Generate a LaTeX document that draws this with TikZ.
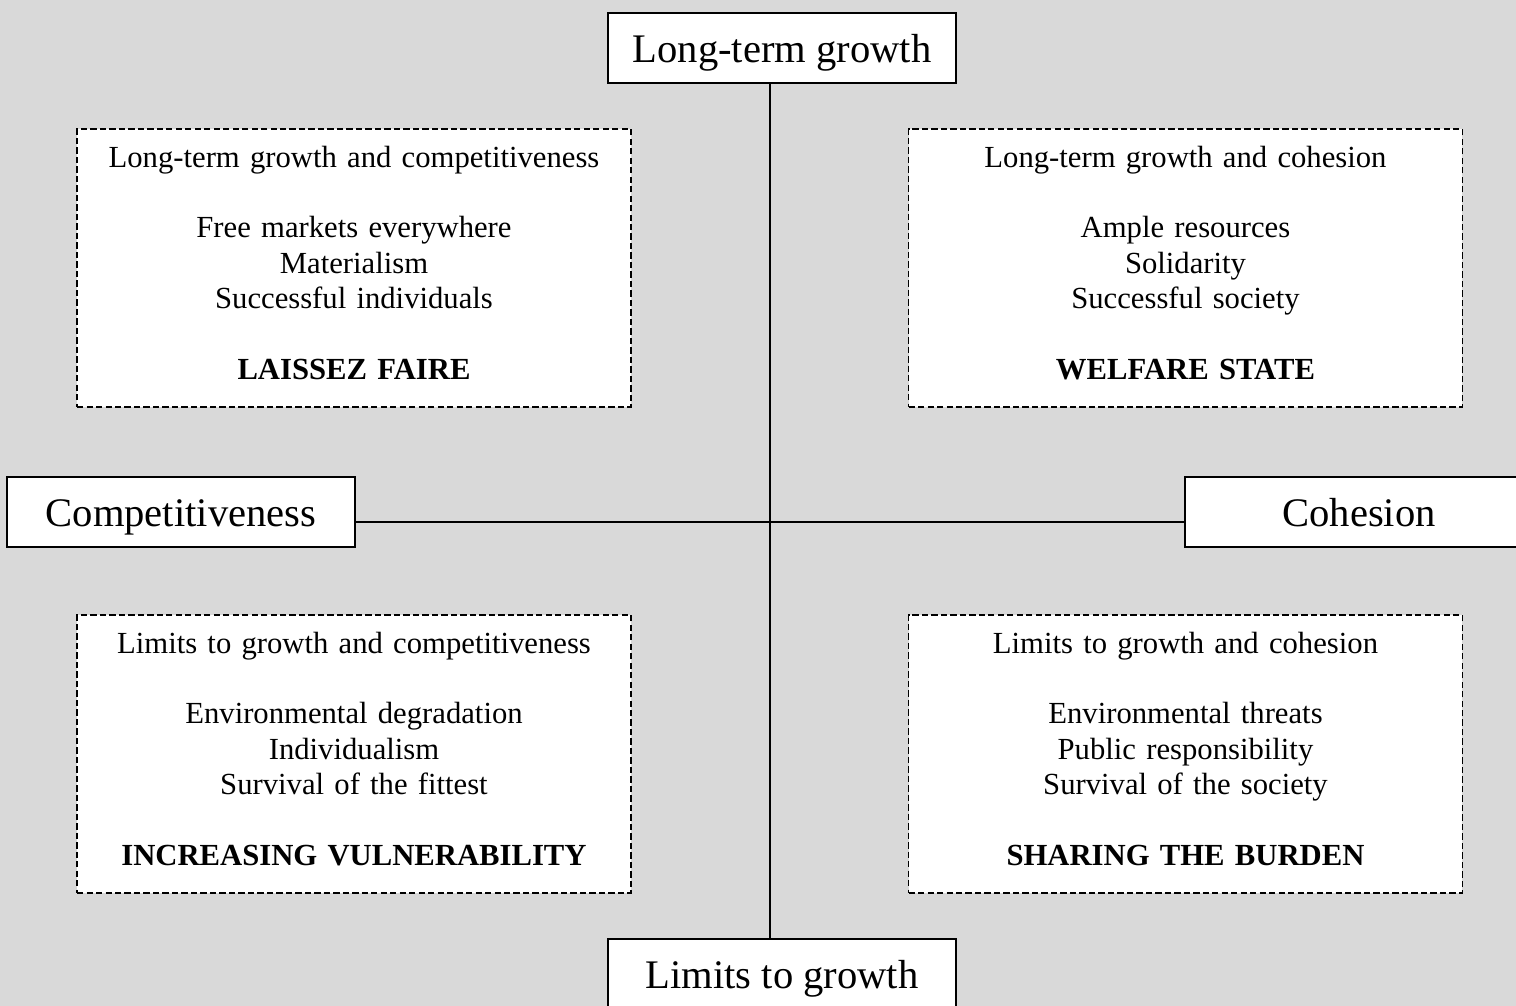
\documentclass[tikz,border=0pt]{standalone}
\usepackage{fontspec}
\setmainfont{Liberation Serif}
\definecolor{bggray}{RGB}{217,217,217}

\begin{document}
\begin{tikzpicture}[x=0.02cm,y=-0.02cm,
    axisbox/.style={draw,line width=1.1pt,fill=white,minimum width=6.96cm,
      inner xsep=0pt,inner ysep=0pt,text height=1cm,text depth=0.4cm,
      font=\fontsize{23.1}{27}\selectfont},
    scenario/.style={draw,dash pattern=on 3.6pt off 1.8pt,line width=0.85pt,
      fill=white,inner sep=0pt,text width=11.08cm,align=center,
      text height=0.76cm,text depth=4.8cm,
      font=\fontsize{17.46}{20.13}\selectfont},
    axisline/.style={line width=1.1pt}]
  \useasboundingbox[fill=bggray] (0,0) rectangle (1516,1006);
  \clip (0,0) rectangle (1516,1006);
  % Axes
  \coordinate (hub) at (770,522);
  \node[axisbox] (growth) at (782,48) {Long-term growth};
  \node[axisbox] (limits) at (782,974) {Limits to growth};
  \node[axisbox] (compet) at (181,512) {Competitiveness};
  \node[axisbox] (cohesion) at (1359,512) {Cohesion};
  \draw[axisline] (growth.south -| hub) -- (limits.north -| hub);
  \draw[axisline] (compet.east |- hub) -- (cohesion.west |- hub);
  % Scenarios
  \node[scenario] (faire) at (354,268) {Long-term growth and competitiveness\\[20.13pt]
    Free markets everywhere\\Materialism\\Successful individuals\\[20.13pt]
    \textbf{LAISSEZ FAIRE}};
  \node[scenario] (welfare) at (1185.5,268) {Long-term growth and cohesion\\[20.13pt]
    Ample resources\\Solidarity\\Successful society\\[20.13pt]
    \textbf{WELFARE STATE}};
  \node[scenario] (vulner) at (354,754) {Limits to growth and competitiveness\\[20.13pt]
    Environmental degradation\\Individualism\\Survival of the fittest\\[20.13pt]
    \textbf{INCREASING VULNERABILITY}};
  \node[scenario] (burden) at (1185.5,754) {Limits to growth and cohesion\\[20.13pt]
    Environmental threats\\Public responsibility\\Survival of the society\\[20.13pt]
    \textbf{SHARING THE BURDEN}};
\end{tikzpicture}
\end{document}
